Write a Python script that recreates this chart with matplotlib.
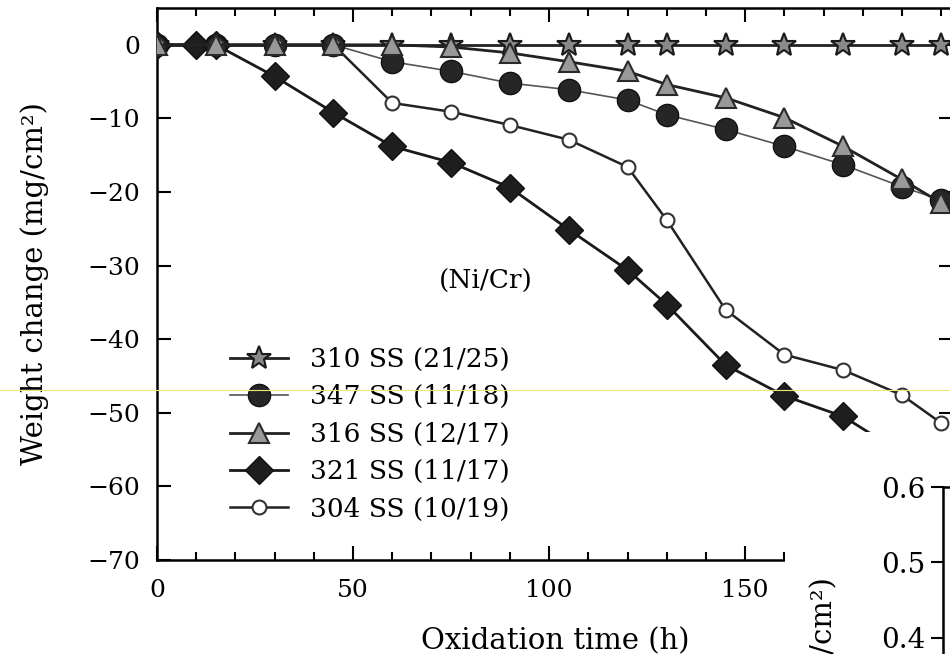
import matplotlib
matplotlib.use("Agg")
import matplotlib.pyplot as plt
from matplotlib.lines import Line2D
from matplotlib.patches import Rectangle
from matplotlib.ticker import MultipleLocator

plt.rcParams['font.family'] = ['DejaVu Serif']

# oxidation time (h) and weight change (mg/cm2)
t_310 = [0, 15, 30, 45, 60, 75, 90, 105, 120, 130, 145, 160, 175, 190, 200]
w_310 = [0, 0, 0, 0, 0, 0, 0, 0, 0, 0, 0, 0, 0, 0, 0]

t_347 = [0, 15, 30, 45, 60, 75, 90, 105, 120, 130, 145, 160, 175, 190, 200]
w_347 = [0, 0, 0, 0, -2.3, -3.6, -5.2, -6.1, -7.5, -9.5, -11.5, -13.8, -16.3, -19.3, -21.1]

t_316 = [0, 15, 30, 45, 60, 75, 90, 105, 120, 130, 145, 160, 175, 190, 200]
w_316 = [0, 0, 0, 0, 0, -0.3, -1.1, -2.3, -3.6, -5.4, -7.2, -9.9, -13.8, -18.3, -21.5]

t_321 = [0, 10, 15, 30, 45, 60, 75, 90, 105, 120, 130, 145, 160, 175, 190]
w_321 = [0, 0, 0, -4.3, -9.2, -13.8, -16.0, -19.4, -25.1, -30.6, -35.3, -43.5, -47.7, -50.5, -55.5]

t_304 = [0, 15, 30, 45, 60, 75, 90, 105, 120, 130, 145, 160, 175, 190, 200]
w_304 = [0, 0, 0, 0, -7.9, -9.1, -10.9, -12.9, -16.6, -23.8, -36.0, -42.1, -44.2, -47.6, -51.4]

labels = ['310 SS (21/25)', '347 SS (11/18)', '316 SS (12/17)', '321 SS (11/17)', '304 SS (10/19)']

fig = plt.figure(figsize=(9.5, 6.54), dpi=100)
ax = fig.add_axes([157 / 950, 94 / 654, 796 / 950, 552 / 654])

ax.plot(t_310, w_310, color='#222222', lw=2.0, marker='*', ms=18, mfc='#8a8a8a', mec='#1a1a1a', mew=1.5, label=labels[0], zorder=3)
ax.plot(t_347, w_347, color='#555555', lw=1.2, marker='o', ms=16, mfc='#262626', mec='#111111', mew=1.0, label=labels[1], zorder=4)
ax.plot(t_316, w_316, color='#222222', lw=2.0, marker='^', ms=15, mfc='#999999', mec='#2a2a2a', mew=1.5, label=labels[2], zorder=5)
ax.plot(t_321, w_321, color='#1a1a1a', lw=2.0, marker='D', ms=14, mfc='#1e1e1e', mec='#111111', mew=1.0, label=labels[3], zorder=4)
ax.plot(t_304, w_304, color='#222222', lw=1.8, marker='o', ms=10, mfc='white', mec='#333333', mew=1.5, label=labels[4], zorder=4)

ax.set_xlim(0, 203)
ax.set_ylim(-70, 5)
ax.set_xticks([0, 50, 100, 150])
ax.xaxis.set_minor_locator(MultipleLocator(10))
ax.set_yticks([0, -10, -20, -30, -40, -50, -60, -70])
ax.tick_params(axis='both', which='both', direction='in', top=True, right=True, width=1.5, labelsize=18)
ax.tick_params(which='major', length=10)
ax.tick_params(which='minor', length=6)
ax.tick_params(axis='y', pad=12)
ax.tick_params(axis='x', pad=14)
for s in ax.spines.values():
    s.set_linewidth(1.8)
ax.set_xlabel('Oxidation time (h)', fontsize=21, labelpad=18)
ax.set_ylabel('Weight change (mg/cm²)', fontsize=21, labelpad=28)

ax.text(0.413, 0.504, '(Ni/Cr)', transform=ax.transAxes, fontsize=19, ha='center', va='center')
ax.legend(loc='upper left', bbox_to_anchor=(0.078, 0.405), frameon=False, fontsize=19,
          handlelength=2.2, handletextpad=0.85, labelspacing=0.47, borderaxespad=0)

# white patch of the neighbouring panel covering the lower right corner
fig.add_artist(Rectangle((785 / 950, 0), 1 - 785 / 950, 222 / 654, transform=fig.transFigure,
                         facecolor='white', edgecolor='none', zorder=5))

# neighbouring panel, only partly in view
ax2 = fig.add_axes([943 / 950, 0, 0.1, 167 / 654], zorder=6)
ax2.patch.set_visible(False)
ax2.set_ylim(0.3788, 0.6)
ax2.set_yticks([0.4, 0.5, 0.6])
ax2.set_xticks([])
ax2.spines['right'].set_visible(False)
ax2.spines['bottom'].set_visible(False)
for s in ax2.spines.values():
    s.set_linewidth(1.8)
ax2.tick_params(axis='y', direction='out', length=9, width=1.5, labelsize=20, pad=4)
fig.text(824 / 950, 77 / 654, 'Weight gain (mg/cm²)', rotation=90, ha='center', va='top', fontsize=21, zorder=7)

# faint scan line
fig.add_artist(Line2D([0, 1], [264 / 654, 264 / 654], transform=fig.transFigure, color='#f3e27a', lw=0.8, zorder=8))

fig.savefig('out.png', dpi=100)
